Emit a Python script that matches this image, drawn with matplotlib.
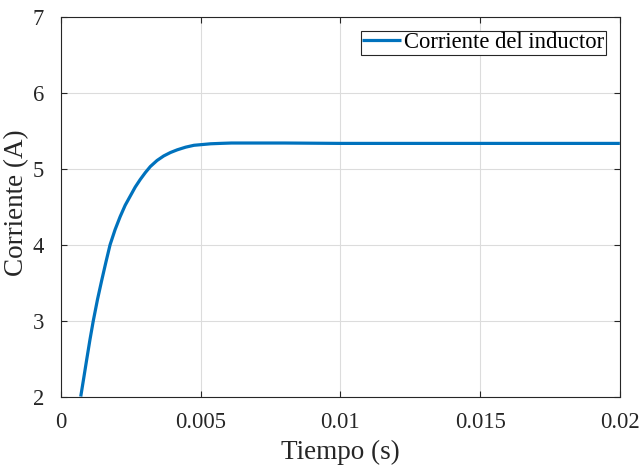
import numpy as np
import matplotlib.pyplot as plt

# values
tiempo = [0.00071, 0.00082, 0.00092, 0.00104, 0.00116, 0.00131, 0.00146,
          0.00161, 0.00176, 0.00194, 0.00212, 0.0023, 0.00248, 0.00266,
          0.00284, 0.00302, 0.0032, 0.00344, 0.00368, 0.00392, 0.00416,
          0.00446, 0.00476, 0.00506, 0.00536, 0.0057, 0.0061, 0.007,
          0.008, 0.01, 0.012, 0.014, 0.016, 0.018, 0.02]
corriente = [2.00, 2.25, 2.48, 2.75, 3.00, 3.28, 3.53,
             3.77, 4.00, 4.20, 4.37, 4.52, 4.64, 4.76,
             4.86, 4.95, 5.03, 5.11, 5.17, 5.215, 5.25,
             5.285, 5.31, 5.32, 5.33, 5.335, 5.34, 5.34,
             5.34, 5.335, 5.335, 5.335, 5.335, 5.335, 5.335]

plt.rcParams['font.family'] = ['Liberation Serif', 'DejaVu Serif']

fig = plt.figure(figsize=(6.41, 4.66), dpi=100)
ax = fig.add_axes([0.095, 0.149, 0.872, 0.8145])

ax.plot(tiempo, corriente, color=(0, 0.447, 0.741), lw=2.3,
        label='Corriente del inductor', solid_capstyle='butt')

ax.set_xlim(0, 0.02)
ax.set_ylim(2, 7)
ax.set_xticks([0, 0.005, 0.01, 0.015, 0.02])
ax.set_xticklabels(['0', '0.005', '0.01', '0.015', '0.02'])
ax.set_yticks([2, 3, 4, 5, 6, 7])
ax.grid(True, color='#dcdcdc', lw=0.8)
ax.tick_params(direction='in', top=True, right=True, labelsize=16.3,
               colors='#262626', length=4)
ax.tick_params(axis='x', pad=11)
ax.tick_params(axis='y', pad=12)
for s in ax.spines.values():
    s.set_color('#262626')
    s.set_linewidth(0.8)

ax.set_xlabel('Tiempo (s)', fontsize=19.5, color='#262626', labelpad=5)
ax.set_ylabel('Corriente (A)', fontsize=19.5, color='#262626')
ax.yaxis.set_label_coords(-0.056, 0.51)

leg = ax.legend(loc='upper right', fontsize=16.3, fancybox=False, framealpha=1,
                edgecolor='#262626', handlelength=1.7, handletextpad=0.15,
                borderpad=0.08, borderaxespad=0.6)
leg.get_frame().set_linewidth(0.8)

fig.savefig('out.png', dpi=100)
